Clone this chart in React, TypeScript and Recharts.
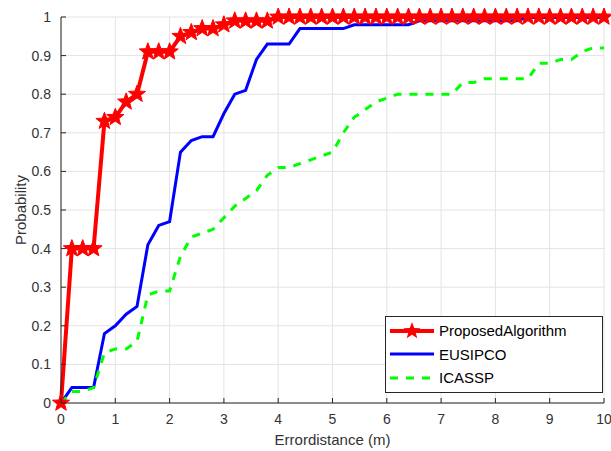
import React from 'react';
import { LineChart, Line, XAxis, YAxis, CartesianGrid, Legend, Label } from 'recharts';

const distances = [
  0, 0.2, 0.4, 0.6, 0.8, 1, 1.2, 1.4, 1.6, 1.8, 2, 2.2, 2.4, 2.6, 2.8, 3, 3.2, 3.4, 3.6, 3.8,
  4, 4.2, 4.4, 4.6, 4.8, 5, 5.2, 5.4, 5.6, 5.8, 6, 6.2, 6.4, 6.6, 6.8, 7, 7.2, 7.4, 7.6, 7.8,
  8, 8.2, 8.4, 8.6, 8.8, 9, 9.2, 9.4, 9.6, 9.8, 10,
];

const proposed = [
  0, 0.4, 0.4, 0.4, 0.73, 0.74, 0.78, 0.8, 0.91, 0.91, 0.91, 0.95, 0.96, 0.97, 0.97, 0.98, 0.99, 0.99, 0.99, 0.99,
  1, 1, 1, 1, 1, 1, 1, 1, 1, 1, 1, 1, 1, 1, 1, 1, 1, 1, 1, 1,
  1, 1, 1, 1, 1, 1, 1, 1, 1, 1, 1,
];

const eusipco = [
  0, 0.04, 0.04, 0.04, 0.18, 0.2, 0.23, 0.25, 0.41, 0.46, 0.47, 0.65, 0.68, 0.69, 0.69, 0.75, 0.8, 0.81, 0.89, 0.93,
  0.93, 0.93, 0.97, 0.97, 0.97, 0.97, 0.97, 0.98, 0.98, 0.98, 0.98, 0.98, 0.98, 0.99, 0.99, 0.99, 0.99, 0.99, 0.99, 0.99,
  0.99, 0.99, 0.99, 1, 1, 1, 1, 1, 1, 1, 1,
];

const icassp = [
  0, 0.03, 0.03, 0.04, 0.13, 0.14, 0.14, 0.16, 0.28, 0.29, 0.29, 0.38, 0.43, 0.44, 0.45, 0.48, 0.51, 0.53, 0.55, 0.59,
  0.61, 0.61, 0.62, 0.63, 0.64, 0.65, 0.7, 0.74, 0.76, 0.78, 0.79, 0.8, 0.8, 0.8, 0.8, 0.8, 0.8, 0.83, 0.83, 0.84,
  0.84, 0.84, 0.84, 0.84, 0.88, 0.88, 0.89, 0.89, 0.91, 0.92, 0.92,
];

const xTicks = [0, 1, 2, 3, 4, 5, 6, 7, 8, 9, 10];
const yTicks = [0, 0.1, 0.2, 0.3, 0.4, 0.5, 0.6, 0.7, 0.8, 0.9, 1];

const data = distances.map((d, i) => ({
  d,
  proposed: proposed[i],
  eusipco: eusipco[i],
  icassp: icassp[i],
}));

const axisColor = '#262626';
const textColor = '#333333';
const font = '"Liberation Sans", Arial, sans-serif';

function starPoints(cx: number, cy: number, r: number) {
  const inner = r * 0.42;
  const pts: string[] = [];
  for (let k = 0; k < 10; k++) {
    const rad = k % 2 === 0 ? r : inner;
    const a = -Math.PI / 2 + (k * Math.PI) / 5;
    pts.push(`${cx + rad * Math.cos(a)},${cy + rad * Math.sin(a)}`);
  }
  return pts.join(' ');
}

const StarDot = (props: any) => {
  const { cx, cy } = props;
  if (cx == null || cy == null) return null;
  return <polygon points={starPoints(cx, cy, 9)} fill="#ff0000" stroke="#ff0000" strokeWidth={1} />;
};

const BottomTick = ({ x, y, payload }: any) => (
  <g>
    <line x1={x} y1={y} x2={x} y2={y - 5} stroke={axisColor} />
    <text x={x} y={y} dy={21} textAnchor="middle" fontSize={14} fill={textColor} fontFamily={font}>
      {payload.value}
    </text>
  </g>
);

const LeftTick = ({ x, y, payload }: any) => (
  <g>
    <line x1={x} y1={y} x2={x + 5} y2={y} stroke={axisColor} />
    <text x={x - 10} y={y} dy={5} textAnchor="end" fontSize={14} fill={textColor} fontFamily={font}>
      {payload.value}
    </text>
  </g>
);

const TopTick = ({ x, y }: any) => <line x1={x} y1={y} x2={x} y2={y + 5} stroke={axisColor} />;
const RightTick = ({ x, y }: any) => <line x1={x} y1={y} x2={x - 5} y2={y} stroke={axisColor} />;

const LegendBox = () => (
  <div
    style={{
      width: 216,
      height: 73,
      border: `1px solid ${axisColor}`,
      background: '#fff',
      fontFamily: font,
      fontSize: 15,
      color: '#000',
      paddingTop: 2,
      boxSizing: 'content-box',
    }}
  >
    {[
      { name: 'ProposedAlgorithm', color: '#ff0000', width: 4, dash: undefined, star: true },
      { name: 'EUSIPCO', color: '#0000ff', width: 3, dash: undefined, star: false },
      { name: 'ICASSP', color: '#00ff00', width: 3, dash: '8 8', star: false },
    ].map((e) => (
      <div key={e.name} style={{ display: 'flex', alignItems: 'center', height: 23.5 }}>
        <svg width={53} height={22} style={{ flex: 'none' }}>
          <line x1={4} y1={11} x2={48} y2={11} stroke={e.color} strokeWidth={e.width} strokeDasharray={e.dash} />
          {e.star && <polygon points={starPoints(26, 11, 9)} fill={e.color} />}
        </svg>
        <span>{e.name}</span>
      </div>
    ))}
  </div>
);

export default function App() {
  return (
    <div style={{ position: 'absolute', left: 0, top: 0, background: '#fff' }}>
      <LineChart width={611} height={451} data={data} margin={{ top: 17, right: 7, bottom: 0, left: 0 }}>
        <CartesianGrid stroke="#e3e3e3" strokeWidth={1} />
        <XAxis
          dataKey="d"
          type="number"
          domain={[0, 10]}
          ticks={xTicks}
          height={48}
          tickSize={0}
          tickMargin={0}
          tickLine={false}
          stroke={axisColor}
          tick={<BottomTick />}
          interval={0}
        >
          <Label
            content={({ viewBox }: any) => (
              <text
                x={viewBox.x + viewBox.width / 2}
                y={viewBox.y + 42}
                textAnchor="middle"
                fontSize={15}
                fill={textColor}
                fontFamily={font}
              >
                Errordistance (m)
              </text>
            )}
          />
        </XAxis>
        <XAxis
          xAxisId="top"
          dataKey="d"
          type="number"
          orientation="top"
          domain={[0, 10]}
          ticks={xTicks}
          height={0}
          tickSize={0}
          tickMargin={0}
          tickLine={false}
          stroke={axisColor}
          tick={<TopTick />}
          interval={0}
        />
        <YAxis
          type="number"
          domain={[0, 1]}
          ticks={yTicks}
          width={61}
          tickSize={0}
          tickMargin={0}
          tickLine={false}
          stroke={axisColor}
          tick={<LeftTick />}
          interval={0}
        >
          <Label
            content={({ viewBox }: any) => {
              const cx = viewBox.x + 21;
              const cy = viewBox.y + viewBox.height / 2;
              return (
                <text
                  x={cx}
                  y={cy}
                  dy={5}
                  transform={`rotate(-90 ${cx} ${cy})`}
                  textAnchor="middle"
                  fontSize={15}
                  fill={textColor}
                  fontFamily={font}
                >
                  Probability
                </text>
              );
            }}
          />
        </YAxis>
        <YAxis
          yAxisId="right"
          type="number"
          orientation="right"
          domain={[0, 1]}
          ticks={yTicks}
          width={0}
          tickSize={0}
          tickMargin={0}
          tickLine={false}
          stroke={axisColor}
          tick={<RightTick />}
          interval={0}
        />
        <Line
          type="linear"
          dataKey="proposed"
          name="ProposedAlgorithm"
          stroke="#ff0000"
          strokeWidth={4}
          dot={<StarDot />}
          activeDot={false}
          isAnimationActive={false}
        />
        <Line
          type="linear"
          dataKey="eusipco"
          name="EUSIPCO"
          stroke="#0000ff"
          strokeWidth={3}
          dot={false}
          activeDot={false}
          isAnimationActive={false}
        />
        <Line
          type="linear"
          dataKey="icassp"
          name="ICASSP"
          stroke="#00ff00"
          strokeWidth={3}
          strokeDasharray="8 8"
          dot={false}
          activeDot={false}
          isAnimationActive={false}
        />
        <Legend
          layout="vertical"
          align="center"
          verticalAlign="middle"
          content={<LegendBox />}
          wrapperStyle={{ left: 385, top: 316, width: 218, height: 77 }}
        />
      </LineChart>
    </div>
  );
}
